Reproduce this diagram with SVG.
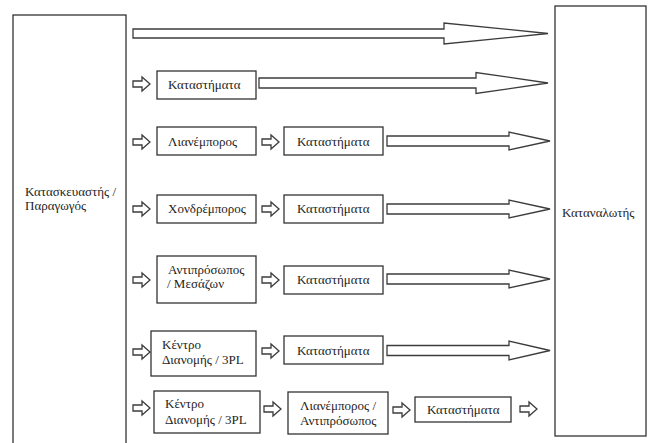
<svg xmlns="http://www.w3.org/2000/svg" xmlns:xlink="http://www.w3.org/1999/xlink" width="651" height="443" viewBox="0 0 651 443">
  <style>
    .box { fill: #ffffff; stroke: #333333; stroke-width: 1.3; }
    .arrow { fill: #ffffff; stroke: #3c3c3c; stroke-width: 1.3; stroke-linejoin: miter; }
    .lbl { font-family: "Liberation Serif", "DejaVu Serif", "Times New Roman", serif; font-size: 13px; fill: #1e1e1e; }
  </style>
  <defs>
    <!-- small outlined block arrow, origin at its tail centre -->
    <path id="small-arrow" class="arrow" d="M0,-3 H9 V-7 L17,0 L9,7 V3 H0 Z"/>
  </defs>
  <rect width="651" height="443" fill="#ffffff"/>

  <!-- end nodes -->
  <g id="producer">
    <rect class="box" x="13" y="15" width="113" height="440"/>
    <text class="lbl" x="25" y="196">Κατασκευαστής /</text>
    <text class="lbl" x="25" y="210">Παραγωγός</text>
  </g>
  <g id="consumer">
    <rect class="box" x="555" y="6" width="91" height="430"/>
    <text class="lbl" x="562" y="217">Καταναλωτής</text>
  </g>

  <!-- channel 2 -->
  <g id="r2-stores">
    <rect class="box" x="157" y="71" width="99" height="28"/>
    <text class="lbl" x="168" y="89">Καταστήματα</text>
  </g>

  <!-- channel 3 -->
  <g id="r3-retailer">
    <rect class="box" x="157" y="127" width="99" height="28"/>
    <text class="lbl" x="168" y="146">Λιανέμπορος</text>
  </g>
  <g id="r3-stores">
    <rect class="box" x="284" y="127" width="99" height="28"/>
    <text class="lbl" x="297" y="146">Καταστήματα</text>
  </g>

  <!-- channel 4 -->
  <g id="r4-wholesaler">
    <rect class="box" x="157" y="195" width="99" height="28"/>
    <text class="lbl" x="168" y="213">Χονδρέμπορος</text>
  </g>
  <g id="r4-stores">
    <rect class="box" x="284" y="195" width="99" height="28"/>
    <text class="lbl" x="297" y="213">Καταστήματα</text>
  </g>

  <!-- channel 5 -->
  <g id="r5-agent">
    <rect class="box" x="157" y="256" width="99" height="47"/>
    <text class="lbl" x="168" y="274">Αντιπρόσωπος</text>
    <text class="lbl" x="167" y="288">/ Μεσάζων</text>
  </g>
  <g id="r5-stores">
    <rect class="box" x="284" y="266" width="99" height="28"/>
    <text class="lbl" x="297" y="284">Καταστήματα</text>
  </g>

  <!-- channel 6 -->
  <g id="r6-dc">
    <rect class="box" x="151" y="331" width="105" height="45"/>
    <text class="lbl" x="162" y="349">Κέντρο</text>
    <text class="lbl" x="162" y="364">Διανομής / 3PL</text>
  </g>
  <g id="r6-stores">
    <rect class="box" x="284" y="336" width="99" height="28"/>
    <text class="lbl" x="297" y="355">Καταστήματα</text>
  </g>

  <!-- channel 7 -->
  <g id="r7-dc">
    <rect class="box" x="154" y="391" width="106" height="42"/>
    <text class="lbl" x="165" y="408">Κέντρο</text>
    <text class="lbl" x="165" y="424">Διανομής / 3PL</text>
  </g>
  <g id="r7-retailer-agent">
    <rect class="box" x="288" y="392" width="100" height="42"/>
    <text class="lbl" x="300" y="410">Λιανέμπορος /</text>
    <text class="lbl" x="300" y="425">Αντιπρόσωπος</text>
  </g>
  <g id="r7-stores">
    <rect class="box" x="415" y="397" width="96" height="25"/>
    <text class="lbl" x="427" y="414">Καταστήματα</text>
  </g>

  <!-- connectors -->
  <g id="connectors">
    <!-- long block arrows into the consumer -->
    <path class="arrow" d="M133,29 H444 V23 L548,33.5 L444,44 V38 H133 Z"/>
    <path class="arrow" d="M259,78 H476 V72.5 L548,83 L476,93.5 V88 H259 Z"/>
    <path class="arrow" d="M387,136 H509 V132 L550,141 L509,150 V146 H387 Z"/>
    <path class="arrow" d="M387,204 H509 V200 L550,209 L509,218 V214 H387 Z"/>
    <path class="arrow" d="M387,274 H509 V270 L550,279 L509,288 V284 H387 Z"/>
    <path class="arrow" d="M387,345.5 H509 V341 L550,350.5 L509,360 V355.5 H387 Z"/>

    <!-- short arrows between stages -->
    <use xlink:href="#small-arrow" transform="translate(133,84)"/>
    <use xlink:href="#small-arrow" transform="translate(133,142)"/>
    <use xlink:href="#small-arrow" transform="translate(262,142)"/>
    <use xlink:href="#small-arrow" transform="translate(133,209)"/>
    <use xlink:href="#small-arrow" transform="translate(262,209)"/>
    <use xlink:href="#small-arrow" transform="translate(133,280)"/>
    <use xlink:href="#small-arrow" transform="translate(262,280)"/>
    <use xlink:href="#small-arrow" transform="translate(133,352)"/>
    <use xlink:href="#small-arrow" transform="translate(262,351)"/>
    <use xlink:href="#small-arrow" transform="translate(133,408)"/>
    <use xlink:href="#small-arrow" transform="translate(264,409)"/>
    <use xlink:href="#small-arrow" transform="translate(393,410)"/>
    <use xlink:href="#small-arrow" transform="translate(520,409)"/>
  </g>
</svg>
